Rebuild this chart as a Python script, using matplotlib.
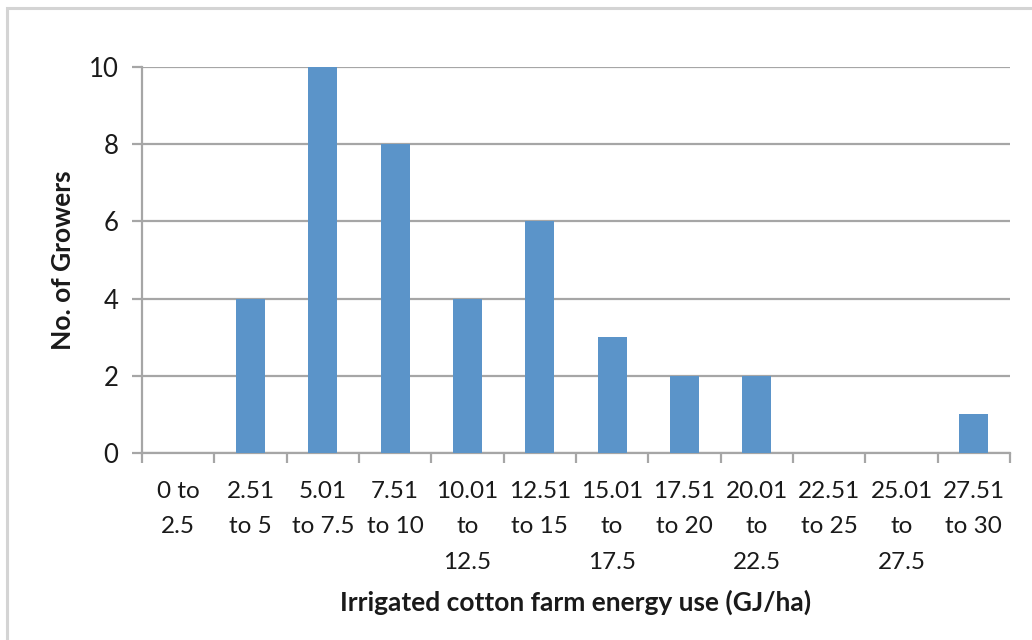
import matplotlib.pyplot as plt
from matplotlib.patches import Rectangle

# Distribution of grower energy use
CATEGORIES = ["0 to\n2.5", "2.51\nto 5", "5.01\nto 7.5", "7.51\nto 10",
              "10.01\nto\n12.5", "12.51\nto 15", "15.01\nto\n17.5", "17.51\nto 20",
              "20.01\nto\n22.5", "22.51\nto 25", "25.01\nto\n27.5", "27.51\nto 30"]
GROWERS = [0, 4, 10, 8, 4, 6, 3, 2, 2, 0, 0, 1]
Y_TICKS = [0, 2, 4, 6, 8, 10]

BAR = "#5b94c9"
AXIS = "#a6a6a6"
TEXT = "#1a1a1a"
FRAME = "#d4d4d4"

plt.rcParams["font.family"] = ["Lato", "DejaVu Sans"]

fig = plt.figure(figsize=(10.32, 6.4), dpi=100)
fig.patch.set_facecolor("white")
# outer chart border (right and bottom edges fall off the image)
fig.patches.append(Rectangle((7 / 1032, -0.2), 1.2, 1.2 - 8 / 640,
                             transform=fig.transFigure, fill=False,
                             edgecolor=FRAME, linewidth=2.2))

ax = fig.add_axes([142 / 1032, 1 - 453 / 640, (1010 - 142) / 1032, (453 - 67) / 640])
xs = list(range(len(CATEGORIES)))
ax.bar(xs, GROWERS, width=0.4, color=BAR, zorder=3)

ax.set_xlim(-0.5, len(CATEGORIES) - 0.5)
ax.set_ylim(0, 10)
ax.set_yticks(Y_TICKS)
ax.grid(True, axis="y", color=AXIS, linewidth=1.6, zorder=0)
ax.set_axisbelow(True)

for side in ("top", "right"):
    ax.spines[side].set_visible(False)
for side in ("left", "bottom"):
    ax.spines[side].set_color(AXIS)
    ax.spines[side].set_linewidth(1.6)

# boundary ticks as majors, category labels as minors
ax.set_xticks([x - 0.5 for x in range(len(CATEGORIES) + 1)])
ax.set_xticklabels([])
ax.set_xticks(xs, minor=True)
ax.set_xticklabels(CATEGORIES, minor=True, fontsize=17.5, color=TEXT,
                   linespacing=1.86, va="top")
ax.tick_params(axis="x", which="major", length=7, width=1.6, color=AXIS)
ax.tick_params(axis="x", which="minor", length=0, pad=20)
ax.tick_params(axis="y", length=7, width=1.6, color=AXIS, labelsize=18.5,
               labelcolor=TEXT, pad=10)

ax.set_xlabel("Irrigated cotton farm energy use (GJ/ha)", fontsize=19,
              fontweight="bold", color=TEXT, labelpad=12)
ax.set_ylabel("No. of Growers", fontsize=19, fontweight="bold",
              color=TEXT, labelpad=10)

fig.savefig("out.png", dpi=100, facecolor="white")
